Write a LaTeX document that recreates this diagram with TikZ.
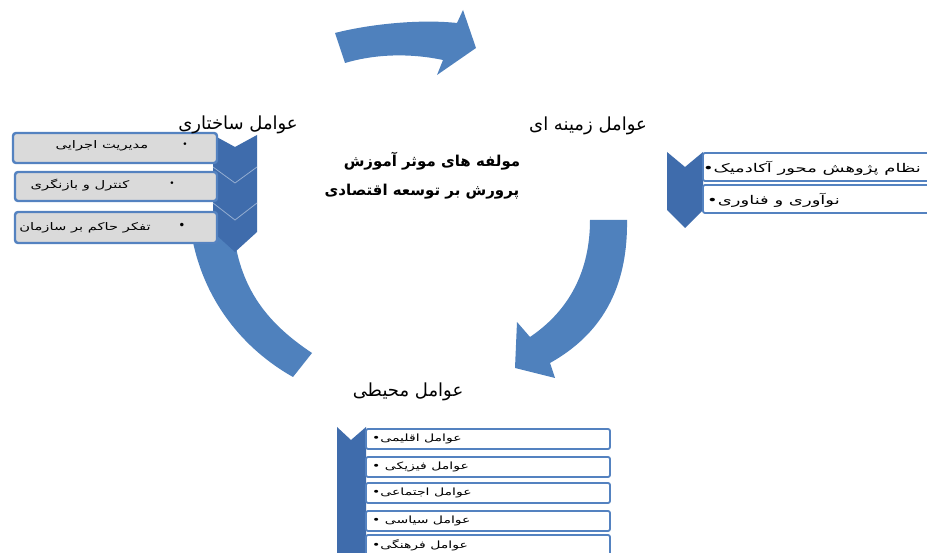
\documentclass[tikz,border=0pt]{standalone}
\usepackage{fontspec}
\setmainfont{DejaVu Sans}
\newfontfamily\ar[Script=Arabic]{DejaVu Sans}
\newfontfamily\arwide[Script=Arabic, FakeStretch=1.4]{DejaVu Sans}
\newfontfamily\arwider[Script=Arabic, FakeStretch=1.5]{DejaVu Sans}
\TeXXeTstate=1
\definecolor{arrowblue}{RGB}{79,129,189}
\definecolor{chevblue}{RGB}{63,108,172}
\definecolor{boxline}{RGB}{84,130,192}
\definecolor{boxgray}{RGB}{218,218,218}
\tikzset{
  arrowshape/.style={fill=arrowblue},
  chevshape/.style={fill=chevblue},
  chevline/.style={draw=chevblue!55!white, line width=0.8pt},
  graybox/.style={draw=boxline, fill=boxgray, line width=2.4pt, rounded corners=3pt, inner sep=0pt},
  whitebox/.style={draw=boxline, fill=white, line width=1.8pt, rounded corners=2pt, inner sep=0pt},
  titletext/.style={font=\ar\fontsize{18}{20}\selectfont, inner sep=0pt},
  centertext/.style={font=\ar\bfseries\fontsize{15}{18}\selectfont, inner sep=0pt},
  smalltext/.style={font=\arwide\fontsize{10.5}{12}\selectfont, inner sep=0pt},
  bottomtext/.style={font=\arwide\fontsize{10}{12}\selectfont, inner sep=0pt},
  righttext/.style={font=\arwider\fontsize{12}{14}\selectfont, inner sep=0pt},
  bullettext/.style={font=\fontsize{9}{10}\selectfont, inner sep=0pt}
}
\begin{document}
\begin{tikzpicture}[x=1pt,y=-1pt]
\useasboundingbox (0,0) rectangle (927,553);
\fill[white] (0,0) rectangle (927,553);

% top arrow
\fill[arrowshape] (335,33) .. controls (370,24) and (420,19) .. (457,23) -- (463,10) -- (476,48) -- (437,75) -- (443,60) .. controls (410,53) and (375,54) .. (345,63) -- cycle;
% right arrow
\fill[arrowshape] (590,220) -- (627,220) .. controls (628,290) and (600,335) .. (550,363) -- (555,378) -- (515,368) -- (517,322) -- (530,337) .. controls (570,310) and (590,270) .. (590,220) -- cycle;
% left arrow
\fill[arrowshape] (190,225) .. controls (200,300) and (245,350) .. (293,377) -- (312,353) .. controls (270,325) and (238,290) .. (233,225) -- cycle;

% left chevron and list
\fill[chevshape] (213,135) -- (235,147) -- (257,135) -- (257,232) -- (235,252) -- (213,232) -- cycle;
\draw[chevline] (213,167) -- (235,183) -- (257,167);
\draw[chevline] (213,203) -- (235,220) -- (257,203);
\node[graybox, minimum width=204pt, minimum height=30pt] (l1) at (115,148) {};
\node[graybox, minimum width=202pt, minimum height=29pt] (l2) at (116,186.5) {};
\node[graybox, minimum width=202pt, minimum height=31pt] (l3) at (116,227.5) {};
\node[smalltext] (l1t) at (102,146) {\beginR مدیریت اجرایی\endR};
\node[bullettext] (l1b) at (185,145) {•};
\node[smalltext] (l2t) at (80,185) {\beginR کنترل و بازنگری\endR};
\node[bullettext] (l2b) at (172,184) {•};
\node[smalltext] (l3t) at (85,228) {\beginR تفکر حاکم بر سازمان\endR};
\node[bullettext, font=\fontsize{12}{12}\selectfont] (l3b) at (182,226) {•};

% right chevron and list
\fill[chevshape] (667,152) -- (685,167) -- (703,152) -- (703,210) -- (685,228) -- (667,210) -- cycle;
\node[whitebox, minimum width=236pt, minimum height=28pt] (r1) at (821,167) {};
\node[whitebox, minimum width=236pt, minimum height=28pt] (r2) at (821,199) {};
\node[righttext, anchor=east] (r1t) at (921,168) {\beginR نظام پژوهش محور آکادمیک•\endR};
\node[righttext, anchor=west] (r2t) at (707,200) {\beginR نوآوری و فناوری•\endR};

% bottom chevron and list
\fill[chevshape] (337,427) -- (351,440) -- (366,427) -- (366,560) -- (337,560) -- cycle;
\node[whitebox, minimum width=244pt, minimum height=20pt] (b1) at (488,439) {};
\node[whitebox, minimum width=244pt, minimum height=20pt] (b2) at (488,467) {};
\node[whitebox, minimum width=244pt, minimum height=20pt] (b3) at (488,493) {};
\node[whitebox, minimum width=244pt, minimum height=20pt] (b4) at (488,521) {};
\node[whitebox, minimum width=244pt, minimum height=20pt] (b5) at (488,545) {};
\node[bottomtext, anchor=west] (b1t) at (372,439) {\beginR عوامل اقلیمی•\endR};
\node[bottomtext, anchor=west] (b2t) at (372,467) {\beginR عوامل فیزیکی •\endR};
\node[bottomtext, anchor=west] (b3t) at (372,493) {\beginR عوامل اجتماعی•\endR};
\node[bottomtext, anchor=west] (b4t) at (372,521) {\beginR عوامل سیاسی •\endR};
\node[bottomtext, anchor=west] (b5t) at (372,545) {\beginR عوامل فرهنگی•\endR};

% titles
\node[titletext] (tleft) at (238,125) {\beginR عوامل ساختاری\endR};
\node[titletext] (tright) at (588,126) {\beginR عوامل زمینه ای\endR};
\node[titletext] (tbottom) at (408,392) {\beginR عوامل محیطی\endR};
\node[centertext] (c1) at (432,161) {\beginR مولفه های موثر آموزش\endR};
\node[centertext] (c2) at (422,192) {\beginR پرورش بر توسعه اقتصادی\endR};
\end{tikzpicture}
\end{document}
